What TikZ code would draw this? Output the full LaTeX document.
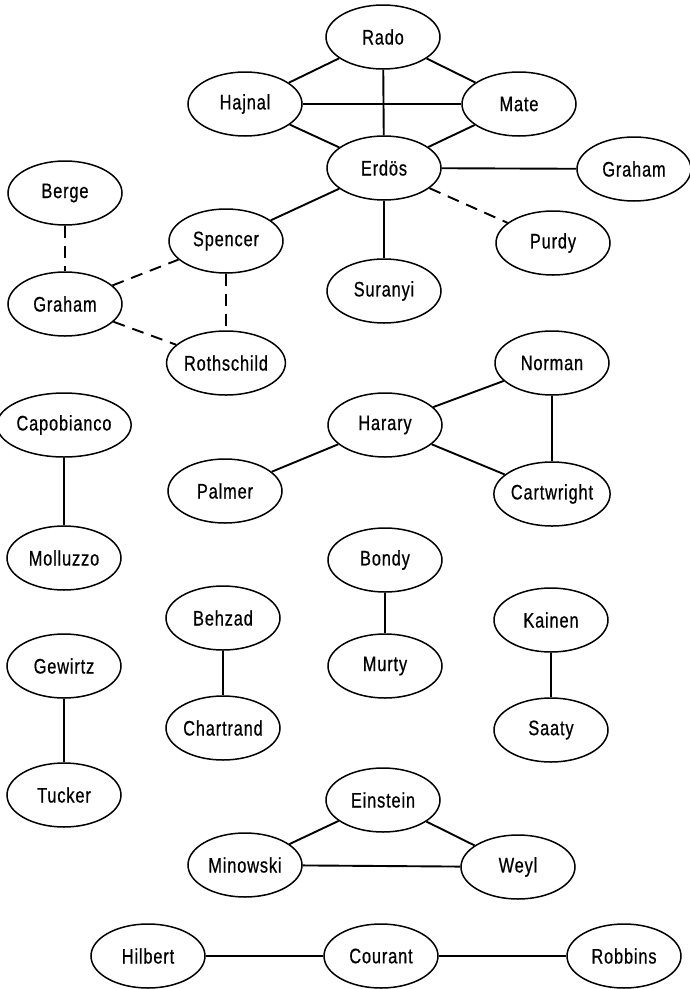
\documentclass[tikz,border=0pt]{standalone}
\usepackage{fontspec}
\setmainfont{Liberation Sans}
\newfontfamily\letterfont[FakeStretch=0.78,LetterSpace=4,FakeBold=0.6]{Liberation Sans}
\usetikzlibrary{shapes.geometric}
\begin{document}
\begin{tikzpicture}[x=1pt,y=-1pt,
  person/.style={draw,ellipse,line width=1.5pt,minimum width=114pt,minimum height=64pt,inner sep=0pt,
    font=\letterfont\fontsize{21}{24}\selectfont},
  tie/.style={line width=1.9pt},
  weak/.style={line width=1.9pt,dash pattern=on 12pt off 8pt}]
\useasboundingbox (0,0) rectangle (690,989);
\node[person] (rado) at (383,37) {Rado};
\node[person] (hajnal) at (245,104) {Hajnal};
\node[person] (mate) at (519,104) {Mate};
\node[person] (erdos) at (384,168) {Erdös};
\node[person] (grahamr) at (634,169) {Graham};
\node[person] (berge) at (65,193) {Berge};
\node[person] (spencer) at (226,241) {Spencer};
\node[person] (purdy) at (553,243) {Purdy};
\node[person] (suranyi) at (384,291) {Suranyi};
\node[person] (grahaml) at (65,304) {Graham};
\node[person] (rothschild) at (226,363) {Rothschild};
\node[person] (norman) at (552,363) {Norman};
\node[person] (capobianco) at (64,425) {Capobianco};
\node[person] (harary) at (385,425) {Harary};
\node[person] (palmer) at (225,491) {Palmer};
\node[person] (cartwright) at (552,494) {Cartwright};
\node[person] (molluzzo) at (64,558) {Molluzzo};
\node[person] (bondy) at (385,560) {Bondy};
\node[person] (behzad) at (223,618) {Behzad};
\node[person] (kainen) at (551,620) {Kainen};
\node[person] (gewirtz) at (64,666) {Gewirtz};
\node[person] (murty) at (385,666) {Murty};
\node[person] (chartrand) at (223,728) {Chartrand};
\node[person] (saaty) at (551,730) {Saaty};
\node[person] (tucker) at (64,795) {Tucker};
\node[person] (einstein) at (383,800) {Einstein};
\node[person] (minowski) at (245,865) {Minowski};
\node[person] (weyl) at (518,867) {Weyl};
\node[person] (hilbert) at (148,956) {Hilbert};
\node[person] (courant) at (381,956) {Courant};
\node[person] (robbins) at (624,956) {Robbins};
\draw[tie] (rado) -- (hajnal);
\draw[tie] (rado) -- (mate);
\draw[tie] (rado) -- (erdos);
\draw[tie] (hajnal) -- (mate);
\draw[tie] (hajnal) -- (erdos);
\draw[tie] (mate) -- (erdos);
\draw[tie] (erdos) -- (grahamr);
\draw[tie] (erdos) -- (spencer);
\draw[tie] (erdos) -- (suranyi);
\draw[weak] (erdos) -- (purdy);
\draw[weak] (berge) -- (grahaml);
\draw[weak] (grahaml) -- (spencer);
\draw[weak] (grahaml) -- (rothschild);
\draw[weak] (spencer) -- (rothschild);
\draw[tie] (harary) -- (norman);
\draw[tie] (harary) -- (palmer);
\draw[tie] (harary) -- (cartwright);
\draw[tie] (norman) -- (cartwright);
\draw[tie] (capobianco) -- (molluzzo);
\draw[tie] (bondy) -- (murty);
\draw[tie] (behzad) -- (chartrand);
\draw[tie] (kainen) -- (saaty);
\draw[tie] (gewirtz) -- (tucker);
\draw[tie] (einstein) -- (minowski);
\draw[tie] (einstein) -- (weyl);
\draw[tie] (minowski) -- (weyl);
\draw[tie] (hilbert) -- (courant);
\draw[tie] (courant) -- (robbins);
\end{tikzpicture}
\end{document}
